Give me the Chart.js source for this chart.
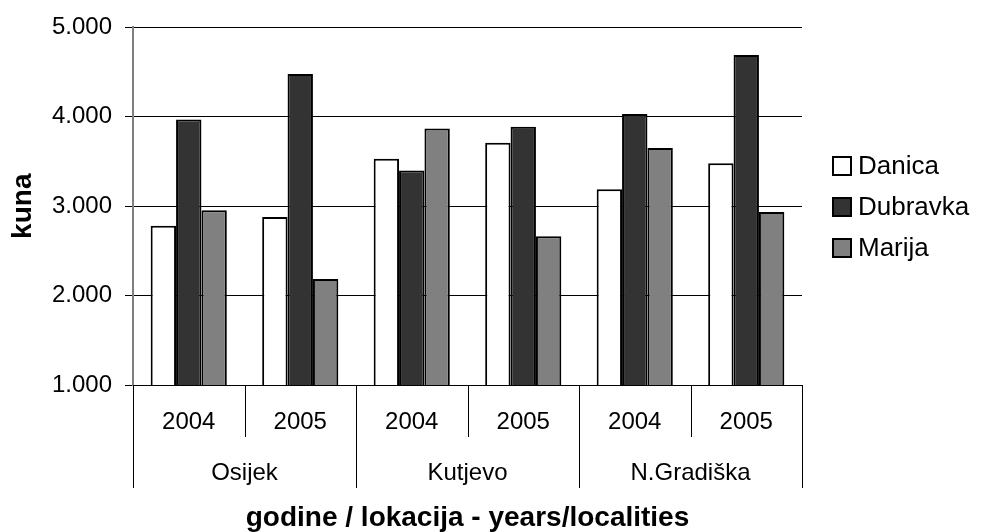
<!DOCTYPE html>
<html>
<head>
<meta charset="utf-8">
<script src="https://cdn.jsdelivr.net/npm/chart.js@4/dist/chart.umd.min.js"></script>
<style>
  html, body { margin: 0; padding: 0; background: #fff; }
  canvas { display: block; }
</style>
</head>
<body>
<canvas id="kunaChart" width="982" height="532"></canvas>
<script>
const years = ['2004', '2005', '2004', '2005', '2004', '2005'];
const localities = ['Osijek', 'Kutjevo', 'N.Gradiška'];
const danica = [2780, 2880, 3530, 3710, 3190, 3480];
const dubravka = [3970, 4480, 3400, 3890, 4030, 4690];
const marija = [2955, 2185, 3870, 2665, 3650, 2935];
const yTicks = [1000, 2000, 3000, 4000, 5000];

const FONT = '"Liberation Sans", Arial, sans-serif';

// draws the two-level category axis, x title and the legend
const axisAndLegend = {
    id: 'axisAndLegend',
    afterDraw(chart) {
        const ctx = chart.ctx;
        const area = chart.chartArea;
        const x = chart.scales.x;
        const yearBottom = area.bottom + 52;
        const locBottom = area.bottom + 103;

        const bounds = [area.left];
        for (let i = 0; i < years.length - 1; i++) {
            bounds.push((x.getPixelForValue(i) + x.getPixelForValue(i + 1)) / 2);
        }
        bounds.push(area.right);

        ctx.save();
        ctx.strokeStyle = '#000';
        ctx.lineWidth = 1;
        bounds.forEach((bx, i) => {
            const bottom = (i % 2 === 0) ? locBottom : yearBottom;
            ctx.beginPath();
            ctx.moveTo(Math.round(bx) + 0.5, area.bottom);
            ctx.lineTo(Math.round(bx) + 0.5, bottom);
            ctx.stroke();
        });

        ctx.fillStyle = '#000';
        ctx.textAlign = 'center';
        ctx.textBaseline = 'middle';
        ctx.font = '24px ' + FONT;
        years.forEach((label, i) => {
            ctx.fillText(label, x.getPixelForValue(i), area.bottom + 37);
        });
        localities.forEach((label, i) => {
            ctx.fillText(label, (bounds[i * 2] + bounds[i * 2 + 2]) / 2, area.bottom + 88);
        });

        ctx.font = 'bold 28px ' + FONT;
        ctx.fillText('godine / lokacija - years/localities', (area.left + area.right) / 2, area.bottom + 133);

        // legend
        ctx.font = '26px ' + FONT;
        ctx.textAlign = 'left';
        chart.data.datasets.forEach((ds, i) => {
            const cy = 166 + i * 41;
            ctx.fillStyle = ds.backgroundColor;
            ctx.fillRect(833, cy - 9, 18, 18);
            ctx.lineWidth = 2;
            ctx.strokeRect(833, cy - 9, 18, 18);
            ctx.fillStyle = '#000';
            ctx.fillText(ds.label, 858, cy + 1);
        });
        ctx.restore();
    }
};

new Chart(document.getElementById('kunaChart'), {
    type: 'bar',
    data: {
        labels: years,
        datasets: [
            { label: 'Danica', data: danica, backgroundColor: '#ffffff' },
            { label: 'Dubravka', data: dubravka, backgroundColor: '#333333' },
            { label: 'Marija', data: marija, backgroundColor: '#808080' }
        ]
    },
    options: {
        responsive: false,
        animation: false,
        datasets: {
            bar: {
                borderColor: '#000',
                borderWidth: 2,
                borderSkipped: false,
                categoryPercentage: 0.683,
                barPercentage: 1
            }
        },
        layout: {
            padding: { left: 0, right: 180, top: 27, bottom: 147 }
        },
        plugins: {
            legend: { display: false },
            tooltip: { enabled: false }
        },
        scales: {
            x: {
                display: false
            },
            y: {
                min: 1000,
                max: 5000,
                afterBuildTicks: scale => {
                    scale.ticks = yTicks.map(v => ({ value: v }));
                },
                afterFit: scale => {
                    scale.width = 133;
                },
                grid: {
                    color: '#000',
                    lineWidth: 1,
                    tickLength: 8,
                    tickColor: '#000'
                },
                border: {
                    color: '#808080',
                    width: 2
                },
                ticks: {
                    padding: 13,
                    color: '#000',
                    font: { family: FONT, size: 24 },
                    callback: value => `${value / 1000}.000`
                },
                title: {
                    display: true,
                    text: 'kuna',
                    color: '#000',
                    font: { family: FONT, size: 28, weight: 'bold' },
                    padding: { top: 6, bottom: 0 }
                }
            }
        }
    },
    plugins: [axisAndLegend]
});
</script>
</body>
</html>
